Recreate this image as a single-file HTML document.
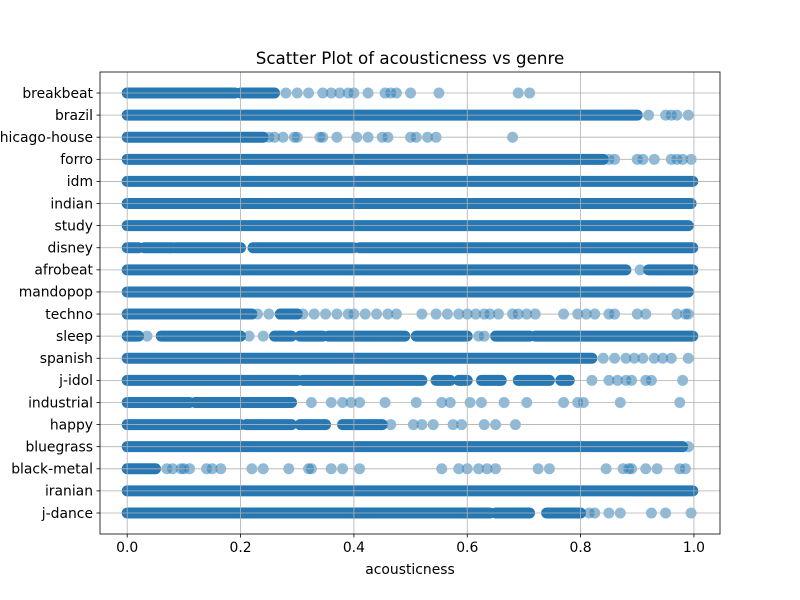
<!DOCTYPE html>
<html><head><meta charset="utf-8"><style>
body{margin:0;background:#fff}
svg{display:block;font-family:"DejaVu Sans","Liberation Sans",sans-serif}
</style></head><body>
<svg id="chart" width="800" height="600">
<rect width="800" height="600" fill="#fff"/>
<text x="410" y="64" text-anchor="middle" font-size="16.7" fill="#000">Scatter Plot of acousticness vs genre</text>
<text x="410" y="574" text-anchor="middle" font-size="13.9" fill="#000">acousticness</text>
<g id="marks"></g>
<g id="grid"></g>
<g id="axes"></g>
</svg>
<script>
const categories = ["j-dance","iranian","black-metal","bluegrass","happy","industrial","j-idol","spanish","sleep","techno","mandopop","afrobeat","disney","study","indian","idm","forro","chicago-house","brazil","breakbeat"];
const xTicks = [0,0.2,0.4,0.6,0.8,1.0];
const xTickLabels = ["0.0","0.2","0.4","0.6","0.8","1.0"];
// dense ranges (heavily overlapping points) per genre
const denseRanges = {
"j-dance":[[0,0.64],[0.65,0.71],[0.74,0.8]],
"iranian":[[0,0.998]],
"black-metal":[[0,0.05]],
"bluegrass":[[0,0.98]],
"happy":[[0,0.2],[0.21,0.29],[0.305,0.35],[0.38,0.45]],
"industrial":[[0,0.11],[0.12,0.29]],
"j-idol":[[0,0.3],[0.31,0.52],[0.545,0.57],[0.585,0.6],[0.625,0.66],[0.69,0.745],[0.765,0.78]],
"spanish":[[0,0.82]],
"sleep":[[0,0.02],[0.06,0.2],[0.26,0.29],[0.305,0.345],[0.355,0.49],[0.51,0.6],[0.65,0.71],[0.72,0.998]],
"techno":[[0,0.22],[0.27,0.3]],
"mandopop":[[0,0.99]],
"afrobeat":[[0,0.88],[0.92,0.998]],
"disney":[[0,0.02],[0.03,0.08],[0.085,0.2],[0.222,0.4],[0.41,0.998]],
"study":[[0,0.99]],
"indian":[[0,0.995]],
"idm":[[0,0.998]],
"forro":[[0,0.84]],
"chicago-house":[[0,0.24]],
"brazil":[[0,0.9]],
"breakbeat":[[0,0.19],[0.2,0.26]]
};
// individual sparse points per genre
const sparsePoints = {
"j-dance":[0.815,0.825,0.85,0.87,0.925,0.95,0.995],
"iranian":[],
"black-metal":[0.07,0.08,0.095,0.1,0.11,0.14,0.15,0.165,0.22,0.24,0.285,0.32,0.325,0.36,0.38,0.41,0.555,0.585,0.6,0.62,0.635,0.65,0.725,0.745,0.845,0.875,0.885,0.89,0.915,0.935,0.975,0.985],
"bluegrass":[0.99],
"happy":[0.465,0.505,0.52,0.54,0.575,0.59,0.63,0.65,0.685],
"industrial":[0.325,0.36,0.38,0.395,0.41,0.455,0.51,0.555,0.57,0.605,0.625,0.665,0.705,0.77,0.795,0.805,0.87,0.975],
"j-idol":[0.82,0.85,0.865,0.88,0.89,0.915,0.925,0.98],
"spanish":[0.84,0.86,0.88,0.895,0.91,0.93,0.945,0.96,0.99],
"sleep":[0.035,0.215,0.24,0.62,0.63],
"techno":[0.23,0.25,0.31,0.33,0.35,0.37,0.39,0.4,0.42,0.44,0.46,0.475,0.52,0.545,0.565,0.585,0.6,0.615,0.63,0.64,0.655,0.68,0.69,0.705,0.72,0.77,0.795,0.81,0.825,0.85,0.86,0.9,0.915,0.97,0.985,0.99],
"mandopop":[],
"afrobeat":[0.905],
"disney":[],
"study":[],
"indian":[],
"idm":[],
"forro":[0.85,0.86,0.9,0.91,0.93,0.96,0.97,0.98,0.995],
"chicago-house":[0.25,0.26,0.275,0.295,0.3,0.34,0.345,0.37,0.405,0.425,0.45,0.46,0.5,0.51,0.53,0.545,0.68],
"brazil":[0.92,0.95,0.96,0.97,0.99],
"breakbeat":[0.28,0.3,0.32,0.345,0.36,0.375,0.39,0.4,0.425,0.455,0.465,0.475,0.5,0.55,0.69,0.71]
};
const L=100,R=720,T=72,B=534,RAD=5.5;
const xMin=-0.048,xMax=1.046;
const xs=v=>L+(v-xMin)/(xMax-xMin)*(R-L);
const ys=i=>B-(i+0.95)/(categories.length-1+1.9)*(B-T);
const NS="http://www.w3.org/2000/svg";
function mk(tag,attrs,parent){const e=document.createElementNS(NS,tag);for(const k in attrs)e.setAttribute(k,attrs[k]);parent.appendChild(e);return e;}
const marks=document.getElementById('marks'),grid=document.getElementById('grid'),axes=document.getElementById('axes');
categories.forEach((c,i)=>{
  const y=ys(i);
  const g=mk('g',{},marks);
  
  
  denseRanges[c].forEach(r=>{
    const e=mk('rect',{x:xs(r[0])-RAD,y:y-RAD,width:xs(r[1])-xs(r[0])+2*RAD,height:2*RAD,rx:RAD,fill:'#2678b4'},g);
    
    
  });
  sparsePoints[c].forEach(v=>{
    const e=mk('circle',{cx:xs(v),cy:y,r:RAD,fill:'#1f77b4','fill-opacity':0.5},g);
    
    
  });
  const gl=mk('line',{x1:L,x2:R,y1:y,y2:y,stroke:'#b0b0b0','stroke-width':0.8},grid);
  
  
  const tk=mk('line',{x1:L-3.5,x2:L,y1:y,y2:y,stroke:'#000','stroke-width':0.8},axes);
  
  
  const t=mk('text',{x:L-7,y:y+4.8,'text-anchor':'end','font-size':13.9,fill:'#000'},axes);
  t.textContent=c;
  
  
});
xTicks.forEach((v,i)=>{
  const x=xs(v);
  const gl=mk('line',{x1:x,x2:x,y1:T,y2:B,stroke:'#b0b0b0','stroke-width':0.8},grid);
  
  
  const tk=mk('line',{x1:x,x2:x,y1:B,y2:B+3.5,stroke:'#000','stroke-width':0.8},axes);
  
  
  const t=mk('text',{x:x,y:B+18,'text-anchor':'middle','font-size':13.9,fill:'#000'},axes);
  t.textContent=xTickLabels[i];
  
  
});
const fr=mk('rect',{x:L,y:T,width:R-L,height:B-T,fill:'none',stroke:'#000','stroke-width':0.8},axes);


</script>
</body></html>
